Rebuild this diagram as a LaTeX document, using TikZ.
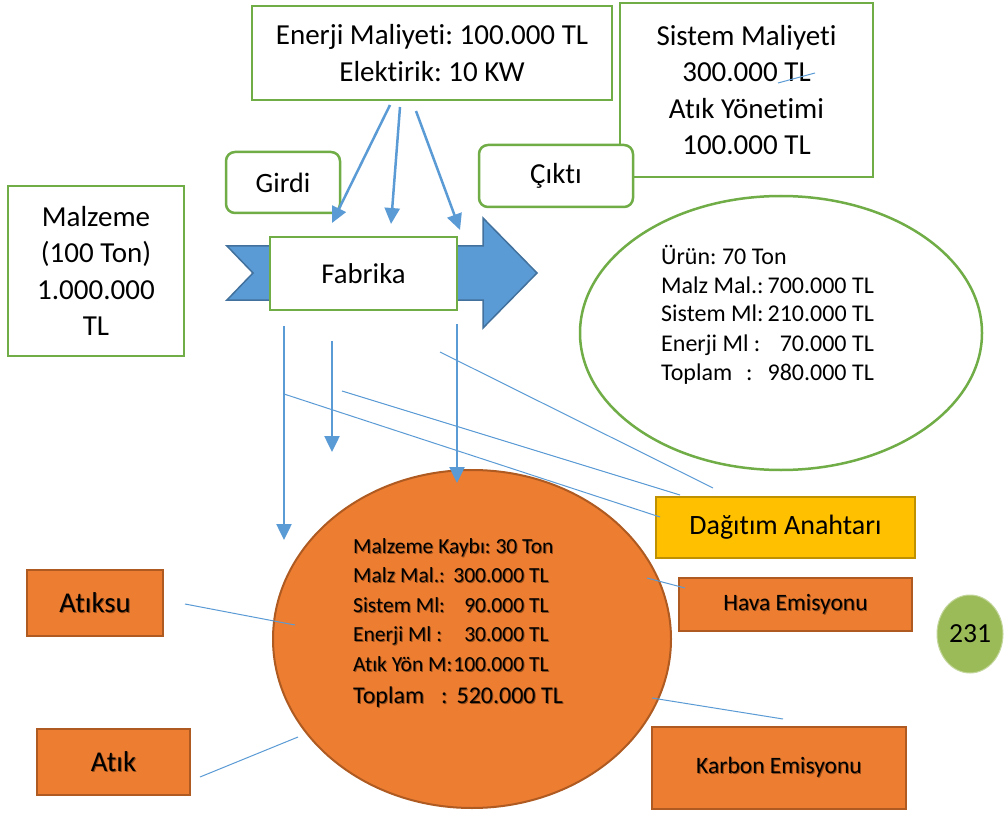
\documentclass[tikz,border=0pt]{standalone}
\usepackage{fontspec}
\setmainfont{Carlito}[Ligatures=NoCommon]
\usetikzlibrary{arrows.meta,shapes.geometric}
\definecolor{gr}{HTML}{70AD47}
\definecolor{bl}{HTML}{5B9BD5}
\definecolor{bld}{HTML}{41719C}
\definecolor{org}{HTML}{ED7D31}
\definecolor{orgd}{HTML}{AE5A21}
\definecolor{yel}{HTML}{FFC000}
\definecolor{yeld}{HTML}{BF9000}
\definecolor{olv}{HTML}{9BBB59}
\definecolor{shc}{HTML}{8F4A1B}
\frenchspacing
\newcommand{\shd}[1]{\leavevmode\rlap{\kern1pt\raisebox{-1pt}{\textcolor{shc}{#1}}}#1}
\begin{document}
\begin{tikzpicture}[x=1pt,y=-1pt,
  gbox/.style={draw=gr,line width=2.5pt,fill=white,inner sep=0pt,align=center},
  obox/.style={draw=orgd,line width=2pt,fill=org,inner sep=0pt,align=center},
  bigfont/.style={font=\fontsize{29}{36.3}\selectfont},
  barrow/.style={draw=bl,line width=2.5pt,-{Triangle[width=15pt,length=16pt]}},
  thinline/.style={draw=bl,line width=1pt}]
\useasboundingbox[fill=white] (0,0) rectangle (1004,813);

% big blue arrow
\fill[bl,draw=bld,line width=1.5pt] (227,246) -- (483,246) -- (483,218) -- (537,273) -- (483,328) -- (483,300) -- (227,300) -- (253,273) -- cycle;

% boxes
\node[gbox,bigfont,minimum width=360pt,minimum height=94pt] (energy) at (432,53) {Enerji Maliyeti: 100.000 TL\\Elektirik: 10 KW};
\node[gbox,bigfont,minimum width=253pt,minimum height=174pt] (sistem) at (746.5,90) {Sistem Maliyeti\\300.000 TL\\Atık Yönetimi\\100.000 TL};
\node[gbox,rounded corners=9pt,font=\fontsize{28}{34}\selectfont,minimum width=114pt,minimum height=61pt] (girdi) at (283,182.5) {Girdi};
\node[gbox,rounded corners=9pt,font=\fontsize{29}{34}\selectfont,minimum width=154pt,minimum height=62pt] (cikti) at (556,176) {Çıktı};
\node[gbox,bigfont,minimum width=176pt,minimum height=170pt] (malz) at (96,271) {Malzeme\\(100 Ton)\\1.000.000\\TL};
\node[gbox,font=\fontsize{28.7}{34}\selectfont,minimum width=187pt,minimum height=73pt] (fab) at (363.5,273.5) {Fabrika};

% output ellipse
\node[ellipse,draw=gr,line width=2.5pt,fill=white,minimum width=402pt,minimum height=274pt,inner sep=0pt] (out) at (781,333) {};
\node[anchor=base west,inner sep=0pt,font=\fontsize{24}{29}\selectfont] (outtext) at (661,264)
 {\begin{tabular}[t]{@{}l@{\hspace{4pt}}r@{}}
  \multicolumn{2}{@{}l@{}}{Ürün: 70 Ton}\\
  Malz Mal.: & 700.000 TL\\
  Sistem Ml: & 210.000 TL\\
  Enerji Ml : & 70.000 TL\\
  Toplam\hspace{14pt}: & 980.000 TL
 \end{tabular}};

% loss circle
\node[ellipse,draw=orgd,line width=2pt,fill=org,minimum width=398pt,minimum height=338pt,inner sep=0pt] (loss) at (472,639) {};
\node[anchor=base west,inner sep=0pt,font=\fontsize{21.5}{29.5}\selectfont] (losstext) at (353,553)
 {\begin{tabular}[t]{@{}l@{\hspace{1pt}}r@{}}
  \multicolumn{2}{@{}l@{}}{\rlap{\shd{Malzeme Kaybı: 30 Ton}}}\\
  \shd{Malz Mal.:} & \shd{300.000 TL}\\
  \shd{Sistem Ml:} & \shd{90.000 TL}\\
  \shd{Enerji Ml :} & \shd{30.000 TL}\\
  \shd{Atık Yön M:} & \shd{100.000 TL}\\[2.5pt]
  \multicolumn{2}{@{}l@{}}{\rlap{\fontsize{24}{29}\selectfont\shd{Toplam\hspace{17pt}:\hspace{9pt}520.000 TL}}}
 \end{tabular}};

% right boxes
\node[draw=yeld,line width=2pt,fill=yel,inner sep=0pt,font=\fontsize{28}{34}\selectfont,minimum width=259pt,minimum height=61pt] (dag) at (785.5,527.5) {Dağıtım Anahtarı};
\node[obox,font=\fontsize{23.5}{28}\selectfont,minimum width=233pt,minimum height=53pt] (hava) at (795.5,604.5) {\shd{Hava Emisyonu}};
\node[obox,font=\fontsize{23.5}{28}\selectfont,minimum width=254pt,minimum height=82pt] (karbon) at (779,768) {\shd{Karbon Emisyonu}};
\node[obox,font=\fontsize{28.7}{34}\selectfont,minimum width=136pt,minimum height=66pt] (atiksu) at (95,603) {\shd{Atıksu}};
\node[obox,font=\fontsize{28.7}{34}\selectfont,minimum width=153pt,minimum height=66pt] (atik) at (113.5,762) {\shd{Atık}};
\node[ellipse,fill=olv,draw=olv!60!white,line width=1pt,minimum width=66pt,minimum height=78pt,inner sep=0pt,font=\fontsize{27.6}{32}\selectfont] (page) at (970,634) {231};

% coordinates for arrows
\coordinate (a1s) at (390,105); \coordinate (a1e) at (332,223);
\coordinate (a2s) at (400,107); \coordinate (a2e) at (391,224);
\coordinate (a3s) at (416,111); \coordinate (a3e) at (460,230);
\coordinate (d1s) at (284,326); \coordinate (d1e) at (284,540);
\coordinate (d2s) at (332,341); \coordinate (d2e) at (332,452);
\coordinate (d3s) at (457,324); \coordinate (d3e) at (457,483);
\draw[barrow] (a1s) -- (a1e);
\draw[barrow] (a2s) -- (a2e);
\draw[barrow] (a3s) -- (a3e);
\draw[barrow] (d1s) -- (d1e);
\draw[barrow] (d2s) -- (d2e);
\draw[barrow] (d3s) -- (d3e);

% thin lines
\coordinate (t1s) at (284,394); \coordinate (t1e) at (660,517);
\coordinate (t2s) at (342,391); \coordinate (t2e) at (680,495);
\coordinate (t3s) at (440,352); \coordinate (t3e) at (713,488);
\coordinate (t4s) at (185,604); \coordinate (t4e) at (295,625);
\coordinate (t5s) at (200,777); \coordinate (t5e) at (298,737);
\coordinate (t6s) at (647,578); \coordinate (t6e) at (685,588);
\coordinate (t7s) at (652,698); \coordinate (t7e) at (783,719);
\coordinate (k1) at (778,83); \coordinate (k2) at (815,73);
\draw[thinline] (t1s) -- (t1e);
\draw[thinline] (t2s) -- (t2e);
\draw[thinline] (t3s) -- (t3e);
\draw[thinline] (t4s) -- (t4e);
\draw[thinline] (t5s) -- (t5e);
\draw[thinline] (t6s) -- (t6e);
\draw[thinline] (t7s) -- (t7e);
\draw[thinline] (k1) -- (k2);
\end{tikzpicture}
\end{document}
